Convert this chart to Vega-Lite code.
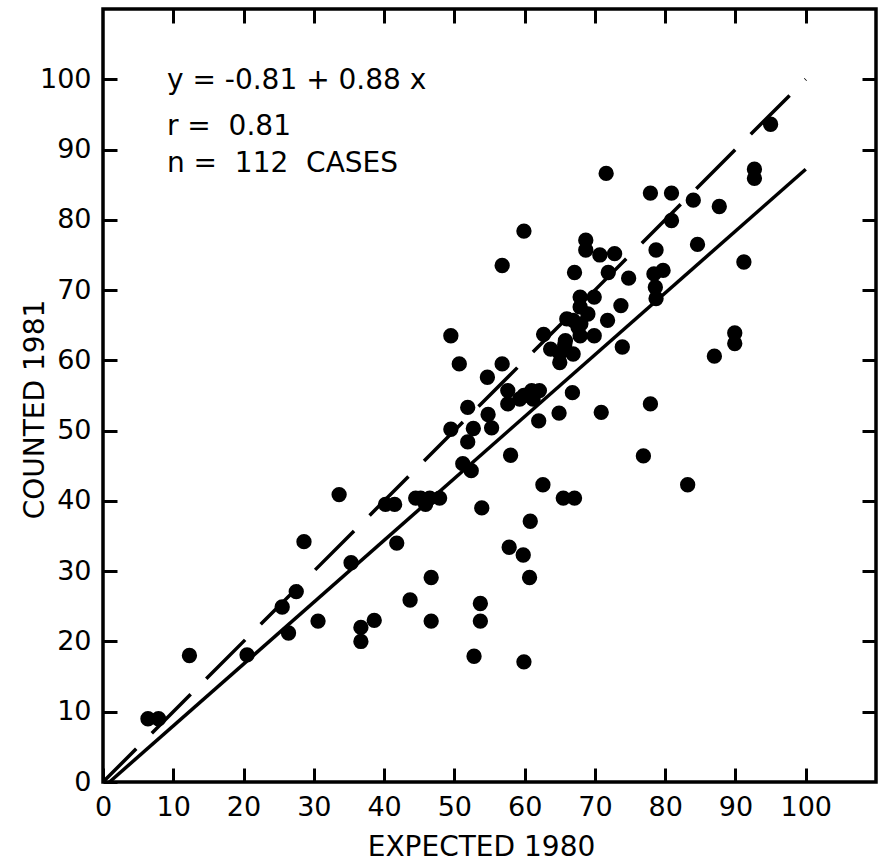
{
  "$schema": "https://vega.github.io/schema/vega-lite/v6.json",
  "width": 773,
  "height": 773,
  "autosize": {"type": "none"},
  "padding": {"left": 103, "top": 9, "right": 7, "bottom": 83},
  "background": "white",
  "config": {
    "view": {"stroke": "black", "strokeWidth": 3.5},
    "font": "DejaVu Sans",
    "axis": {
      "domain": false,
      "grid": false,
      "tickColor": "black",
      "tickWidth": 3,
      "tickSize": -14,
      "labelColor": "black",
      "labelFont": "DejaVu Sans",
      "labelFontSize": 27,
      "labelOverlap": false,
      "labelFlush": false,
      "labelBound": false,
      "titleColor": "black",
      "titleFont": "DejaVu Sans",
      "titleFontSize": 28,
      "titleFontWeight": "normal"
    }
  },
  "datasets": {
    "pts": [
      {"expected": 6.4, "counted": 9.0},
      {"expected": 7.9, "counted": 9.0},
      {"expected": 12.3, "counted": 18.0},
      {"expected": 20.5, "counted": 18.1},
      {"expected": 25.5, "counted": 24.9},
      {"expected": 26.4, "counted": 21.2},
      {"expected": 27.5, "counted": 27.1},
      {"expected": 28.6, "counted": 34.2},
      {"expected": 30.6, "counted": 22.9},
      {"expected": 33.6, "counted": 40.9},
      {"expected": 35.3, "counted": 31.2},
      {"expected": 36.7, "counted": 22.0},
      {"expected": 36.7, "counted": 20.0},
      {"expected": 38.6, "counted": 23.0},
      {"expected": 40.2, "counted": 39.5},
      {"expected": 41.5, "counted": 39.5},
      {"expected": 41.8, "counted": 34.0},
      {"expected": 43.7, "counted": 25.9},
      {"expected": 44.5, "counted": 40.4},
      {"expected": 45.2, "counted": 40.4},
      {"expected": 45.9, "counted": 39.5},
      {"expected": 46.5, "counted": 40.4},
      {"expected": 47.9, "counted": 40.4},
      {"expected": 46.7, "counted": 29.1},
      {"expected": 46.7, "counted": 22.9},
      {"expected": 49.5, "counted": 63.5},
      {"expected": 49.5, "counted": 50.2},
      {"expected": 50.7, "counted": 59.5},
      {"expected": 51.2, "counted": 45.3},
      {"expected": 52.4, "counted": 44.3},
      {"expected": 51.9, "counted": 53.3},
      {"expected": 51.9, "counted": 48.4},
      {"expected": 52.7, "counted": 50.3},
      {"expected": 52.8, "counted": 17.9},
      {"expected": 53.7, "counted": 25.4},
      {"expected": 53.7, "counted": 22.9},
      {"expected": 53.9, "counted": 39.0},
      {"expected": 54.7, "counted": 57.6},
      {"expected": 54.8, "counted": 52.3},
      {"expected": 55.3, "counted": 50.4},
      {"expected": 56.8, "counted": 73.5},
      {"expected": 56.8, "counted": 59.5},
      {"expected": 57.6, "counted": 55.7},
      {"expected": 57.6, "counted": 53.8},
      {"expected": 57.8, "counted": 33.4},
      {"expected": 58.0, "counted": 46.5},
      {"expected": 59.3, "counted": 54.5},
      {"expected": 59.9, "counted": 55.0},
      {"expected": 59.8, "counted": 32.3},
      {"expected": 59.9, "counted": 78.4},
      {"expected": 59.9, "counted": 17.1},
      {"expected": 60.7, "counted": 29.1},
      {"expected": 60.8, "counted": 37.1},
      {"expected": 61.0, "counted": 55.7},
      {"expected": 61.2, "counted": 54.5},
      {"expected": 62.0, "counted": 51.4},
      {"expected": 62.1, "counted": 55.7},
      {"expected": 62.6, "counted": 42.3},
      {"expected": 62.7, "counted": 63.7},
      {"expected": 63.7, "counted": 61.6},
      {"expected": 64.9, "counted": 52.5},
      {"expected": 65.0, "counted": 59.7},
      {"expected": 65.0, "counted": 61.0},
      {"expected": 65.5, "counted": 40.4},
      {"expected": 65.7, "counted": 62.2},
      {"expected": 65.8, "counted": 62.8},
      {"expected": 66.0, "counted": 65.9},
      {"expected": 66.8, "counted": 55.4},
      {"expected": 66.9, "counted": 60.9},
      {"expected": 66.9, "counted": 65.7},
      {"expected": 67.1, "counted": 72.5},
      {"expected": 67.1, "counted": 40.4},
      {"expected": 67.6, "counted": 64.7},
      {"expected": 67.9, "counted": 69.0},
      {"expected": 67.9, "counted": 67.6},
      {"expected": 67.9, "counted": 63.5},
      {"expected": 68.0, "counted": 65.2},
      {"expected": 68.7, "counted": 77.1},
      {"expected": 68.7, "counted": 75.7},
      {"expected": 69.0, "counted": 66.6},
      {"expected": 69.9, "counted": 69.0},
      {"expected": 69.9, "counted": 63.5},
      {"expected": 70.7, "counted": 75.0},
      {"expected": 70.9, "counted": 52.6},
      {"expected": 71.6, "counted": 86.6},
      {"expected": 71.8, "counted": 65.7},
      {"expected": 71.9, "counted": 72.5},
      {"expected": 72.8, "counted": 75.2},
      {"expected": 73.7, "counted": 67.8},
      {"expected": 73.9, "counted": 61.9},
      {"expected": 74.8, "counted": 71.7},
      {"expected": 76.9, "counted": 46.4},
      {"expected": 77.9, "counted": 83.8},
      {"expected": 77.9, "counted": 53.8},
      {"expected": 78.4, "counted": 72.3},
      {"expected": 78.6, "counted": 70.4},
      {"expected": 78.7, "counted": 68.8},
      {"expected": 78.7, "counted": 75.7},
      {"expected": 79.7, "counted": 72.8},
      {"expected": 80.9, "counted": 83.8},
      {"expected": 80.9, "counted": 79.9},
      {"expected": 83.2, "counted": 42.3},
      {"expected": 84.0, "counted": 82.8},
      {"expected": 84.6, "counted": 76.5},
      {"expected": 87.0, "counted": 60.6},
      {"expected": 87.7, "counted": 81.9},
      {"expected": 89.9, "counted": 63.9},
      {"expected": 89.9, "counted": 62.4},
      {"expected": 91.2, "counted": 74.0},
      {"expected": 92.7, "counted": 87.2},
      {"expected": 92.7, "counted": 85.9},
      {"expected": 95.0, "counted": 93.6}
    ],
    "lines": [
      {"kind": "fit", "expected": 0.92, "counted": 0.0},
      {"kind": "fit", "expected": 100, "counted": 87.19},
      {"kind": "equal", "expected": 0, "counted": 0},
      {"kind": "equal", "expected": 100, "counted": 100}
    ],
    "notes": [
      {"label": "y = -0.81 + 0.88 x", "expected": 9.1, "counted": 99.7},
      {"label": "r = \u00a00.81", "expected": 9.1, "counted": 93.2},
      {"label": "n = \u00a0112 \u00a0CASES", "expected": 9.1, "counted": 87.9}
    ]
  },
  "layer": [
    {
      "data": {"name": "pts"},
      "mark": {"type": "point", "filled": true, "shape": "circle", "size": 235, "color": "black", "opacity": 1},
      "encoding": {
        "x": {
          "field": "expected", "type": "quantitative",
          "scale": {"domain": [0, 110], "nice": false, "zero": false},
          "axis": {
            "orient": "bottom",
            "values": [0, 10, 20, 30, 40, 50, 60, 70, 80, 90, 100],
            "title": "EXPECTED 1980",
            "labelPadding": 26,
            "titleX": 378,
            "titleY": 73,
            "titleBaseline": "alphabetic"
          }
        },
        "y": {
          "field": "counted", "type": "quantitative",
          "scale": {"domain": [0, 110], "nice": false, "zero": false},
          "axis": {
            "orient": "left",
            "values": [0, 10, 20, 30, 40, 50, 60, 70, 80, 90, 100],
            "title": "COUNTED 1981",
            "labelPadding": 26,
            "titleX": -60,
            "titleY": 400,
            "titleAngle": -90,
            "titleBaseline": "alphabetic"
          }
        }
      }
    },
    {
      "data": {"name": "lines"},
      "transform": [{"filter": "datum.kind === 'fit'"}],
      "mark": {"type": "line", "color": "black", "strokeWidth": 3.5, "clip": true},
      "encoding": {
        "x": {
          "field": "expected", "type": "quantitative",
          "axis": {"orient": "top", "values": [10, 20, 30, 40, 50, 60, 70, 80, 90, 100], "labels": false, "title": null}
        },
        "y": {
          "field": "counted", "type": "quantitative",
          "axis": {"orient": "right", "values": [10, 20, 30, 40, 50, 60, 70, 80, 90, 100], "labels": false, "title": null}
        }
      }
    },
    {
      "data": {"name": "lines"},
      "transform": [{"filter": "datum.kind === 'equal'"}],
      "mark": {"type": "line", "color": "black", "strokeWidth": 3.5, "strokeDash": [55, 22], "strokeDashOffset": 8, "clip": true},
      "encoding": {
        "x": {"field": "expected", "type": "quantitative", "axis": null},
        "y": {"field": "counted", "type": "quantitative", "axis": null}
      }
    },
    {
      "data": {"name": "notes"},
      "mark": {"type": "text", "align": "left", "baseline": "middle", "fontSize": 28, "font": "DejaVu Sans", "color": "black"},
      "encoding": {
        "x": {"field": "expected", "type": "quantitative", "axis": null},
        "y": {"field": "counted", "type": "quantitative", "axis": null},
        "text": {"field": "label"}
      }
    }
  ],
  "resolve": {"axis": {"x": "independent", "y": "independent"}}
}
